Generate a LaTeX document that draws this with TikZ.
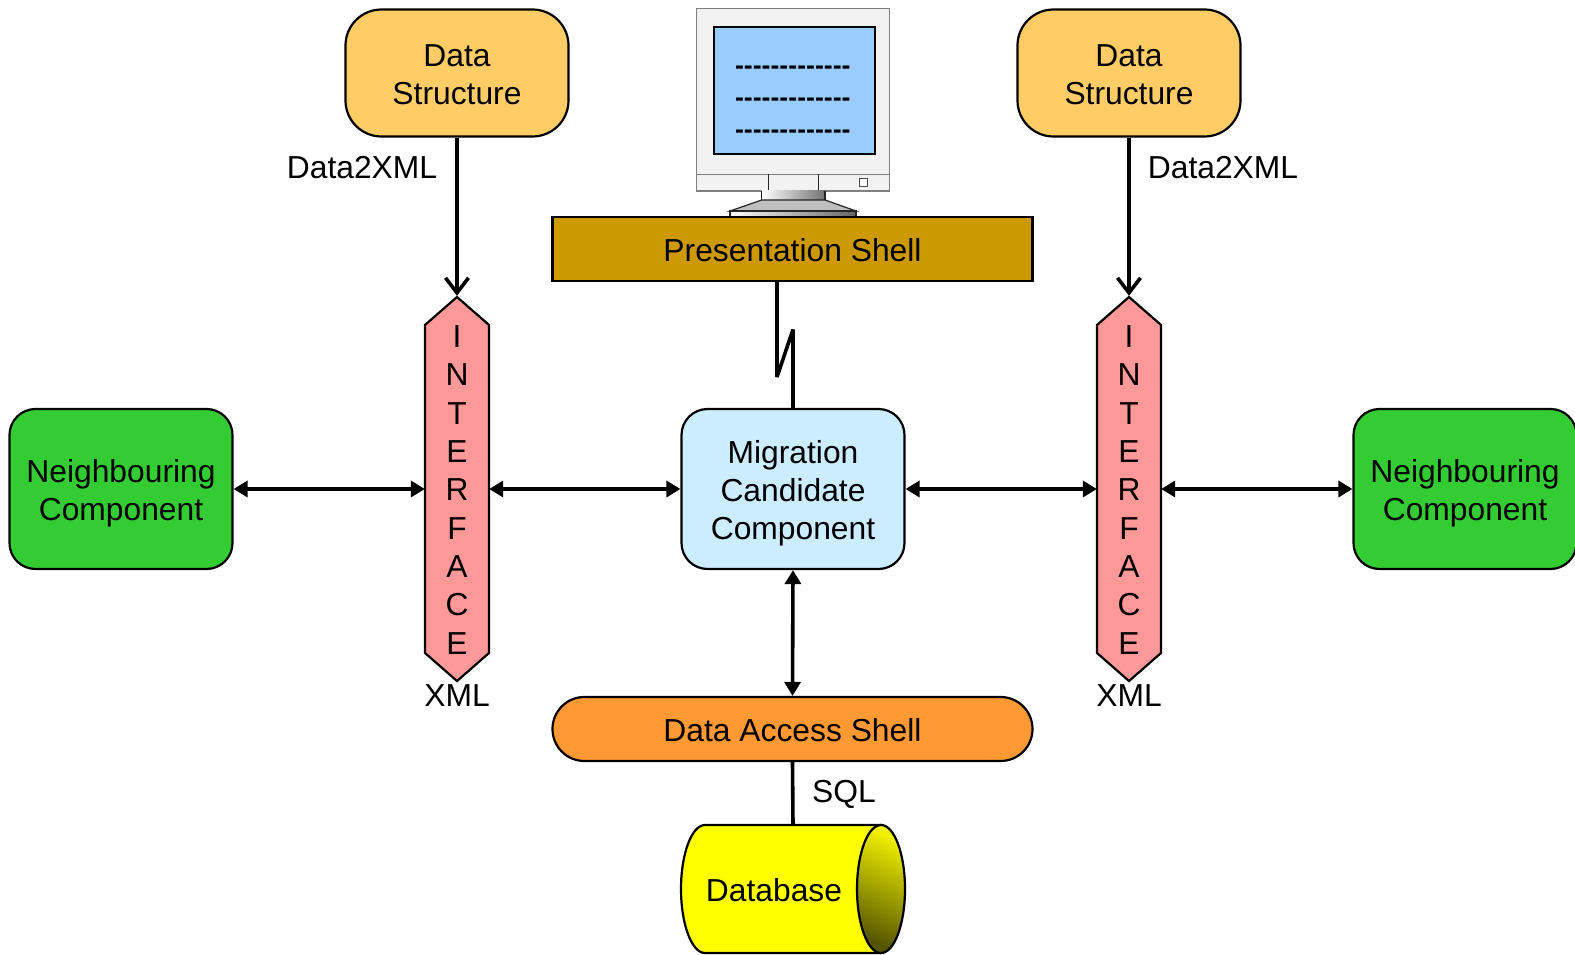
\documentclass[tikz,border=0pt]{standalone}
\usepackage{fontspec}
\setmainfont{Liberation Sans}
\newfontfamily\dashfont{Liberation Sans}
\usetikzlibrary{arrows.meta}
\definecolor{dsc}{HTML}{FFCC66}
\definecolor{nbc}{HTML}{33CC33}
\definecolor{mcc}{HTML}{CCECFF}
\definecolor{psc}{HTML}{CC9900}
\definecolor{dac}{HTML}{FF9933}
\definecolor{ifc}{HTML}{FF9999}
\definecolor{scr}{HTML}{99CCFF}
\definecolor{face}{HTML}{F2F2F2}
\definecolor{mgr}{HTML}{7F7F7F}
\definecolor{dby}{RGB}{255,255,0}
\definecolor{dbdark}{RGB}{85,85,0}
\definecolor{dbbright}{RGB}{240,240,0}
\newcommand{\tup}[1]{\rule{0pt}{#1}}
\tikzset{
  txt/.style={font=\fontsize{31.8}{38}\selectfont, align=center, text=black, inner sep=0pt},
  box/.style={txt, draw=black, line width=2.2pt, minimum width=223pt},
  dsbox/.style={box, fill=dsc, minimum height=127pt, rounded corners=36pt},
  nbbox/.style={box, fill=nbc, minimum height=160pt, rounded corners=26pt},
  migbox/.style={box, fill=mcc, minimum height=160pt, rounded corners=26pt},
  shellbox/.style={txt, draw=black, line width=2.2pt, minimum width=480pt, minimum height=64pt},
  ifbox/.style={inner sep=0pt, minimum width=64pt, minimum height=384pt, font=\fontsize{31.8}{38.35}\selectfont, align=center},
  ifshape/.style={draw=black, line width=2.2pt, fill=ifc, line join=miter},
  lbl/.style={txt},
  one/.style={line width=3.6pt, -{Straight Barb[length=15pt,width=23pt,line width=3.6pt]}, shorten >=1pt},
  two/.style={line width=3.6pt, {Triangle[length=14pt,width=16pt]}-{Triangle[length=14pt,width=16pt]}},
  plain/.style={line width=3.6pt},
  dashtxt/.style={inner sep=0pt, font=\fontsize{26.7}{30}\dashfont\bfseries},
  mon/.style={draw=mgr, line width=1.4pt, fill=face},
  monk/.style={draw=black!85, line width=1.2pt}
}
\begin{document}
\begin{tikzpicture}[x=1pt,y=-1pt]
\clip (0,0) rectangle (1575,955);
\fill[white] (0,0) rectangle (1575,955);
% monitor
\draw[mon] (696.7,8.7) rectangle (889.3,191);
\draw[mon] (696.7,174.3) -- (889.3,174.3);
\draw[monk] (768.3,174.3) -- (768.3,191) (818.3,174.3) -- (818.3,191);
\draw[draw=black!70, line width=1pt, fill=white] (859.3,178.7) rectangle (867.3,186.7);
\shade[left color=white, right color=black!55] (761.7,191) rectangle (825,200);
\draw[monk] (761.7,191) -- (761.7,200) (825,191) -- (825,200);
\draw[monk, fill=black!25] (761.7,200) -- (825,200) -- (856,211) -- (730,211) -- cycle;
\shade[left color=white, right color=black!60] (730,211) rectangle (856,217);
\draw[monk] (730,217) -- (730,211) -- (856,211) -- (856,217);
\draw[draw=black, line width=2pt, fill=scr] (713.7,26.7) rectangle (875.3,154);
\node[dashtxt] (d1) at (792.8,70) {-------------};
\node[dashtxt] (d2) at (792.8,102) {-------------};
\node[dashtxt] (d3) at (792.8,134) {-------------};
% nodes
\node[dsbox] (dsL) at (457,73) {\tup{25pt}Data\\Structure};
\node[dsbox] (dsR) at (1129,73) {\tup{25pt}Data\\Structure};
\node[nbbox] (nbL) at (121,489) {\tup{31pt}Neighbouring\\Component};
\node[nbbox] (nbR) at (1465,489) {\tup{31pt}Neighbouring\\Component};
\node[migbox] (mig) at (793,489) {\tup{31pt}Migration\\Candidate\\Component};
\node[shellbox, fill=psc] (pres) at (792.5,249) {\tup{25pt}Presentation Shell};
\node[shellbox, fill=dac, rounded corners=31.9pt] (das) at (792.5,729) {\tup{25pt}Data Access Shell};
% interfaces
\draw[ifshape] (457,297) -- (489,325) -- (489,653) -- (457,681) -- (425,653) -- (425,325) -- cycle;
\draw[ifshape] (1129,297) -- (1161,325) -- (1161,653) -- (1129,681) -- (1097,653) -- (1097,325) -- cycle;
\node[ifbox] (ifL) at (457,489) {\tup{23.5pt}I\\N\\T\\E\\R\\F\\A\\C\\E};
\node[ifbox] (ifR) at (1129,489) {\tup{23.5pt}I\\N\\T\\E\\R\\F\\A\\C\\E};
% database
\draw[draw=black, line width=2.2pt, fill=dby] (881,825) -- (705,825) arc[start angle=-90, end angle=-270, x radius=24, y radius=64] -- (881,953) -- cycle;
\shade[top color=dbbright, bottom color=dbdark, shading angle=-24, draw=black, line width=2.2pt] (881,889) ellipse[x radius=24, y radius=64];
\node[inner sep=0pt, minimum width=224pt, minimum height=128pt] (db) at (793,889) {};
\node[txt] (dbt) at (774,890) {Database};
% labels
\node[lbl] (l1) at (362,168) {Data2XML};
\node[lbl] (l2) at (1223,168) {Data2XML};
\node[lbl] (l3) at (457,696) {XML};
\node[lbl] (l4) at (1129,696) {XML};
\node[lbl] (l5) at (844,794) {SQL};
% connectors
\coordinate (z1) at (777,377);
\coordinate (z2) at (793,329.5);
\draw[one] (dsL.south) -- (ifL.north);
\draw[one] (dsR.south) -- (ifR.north);
\draw[two] (nbL.east) -- (ifL.west);
\draw[two] (ifL.east) -- (mig.west);
\draw[two] (mig.east) -- (ifR.west);
\draw[two] (ifR.east) -- (nbR.west);
\draw[two] (mig.south) -- (das.north);
\draw[plain, line join=bevel] (pres.south -| z1) -- (z1) -- (z2) -- (mig.north);
\draw[plain] (das.south) -- (db.north);
\end{tikzpicture}
\end{document}
